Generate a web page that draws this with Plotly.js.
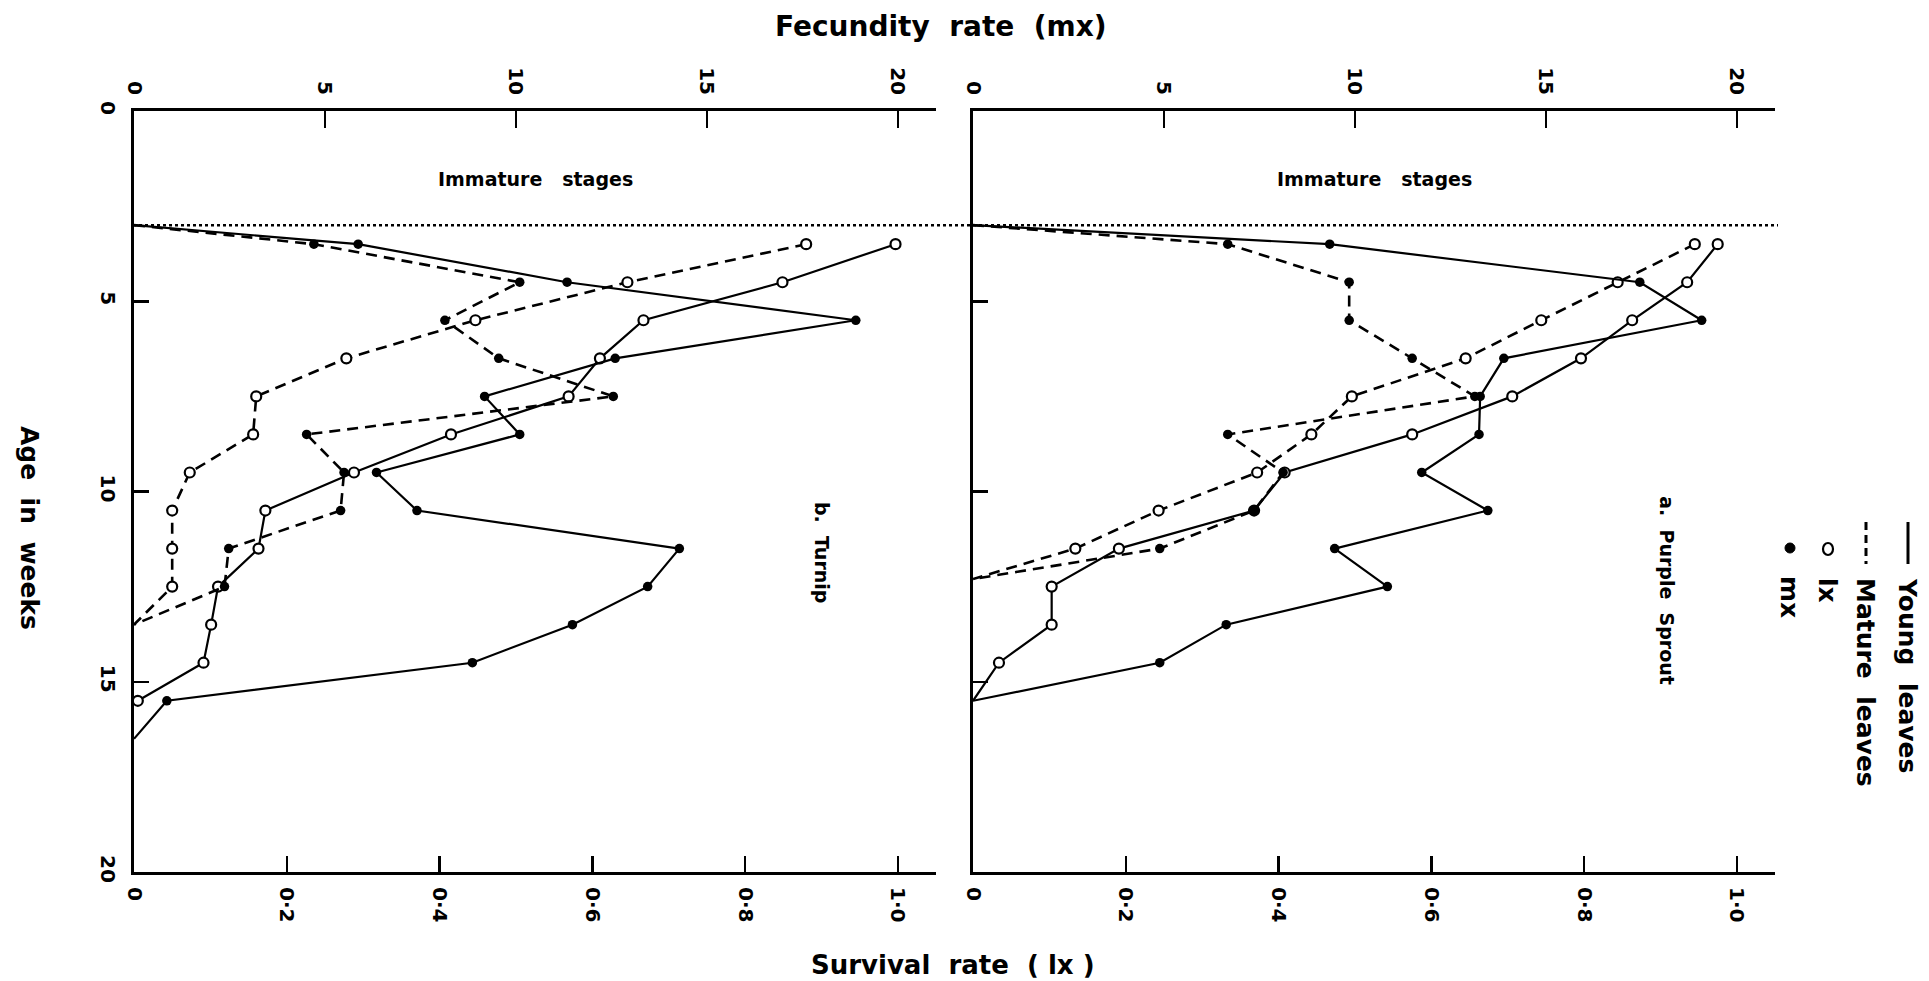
<!DOCTYPE html>
<html>
<head>
<meta charset="utf-8">
<script src="https://cdn.plot.ly/plotly-3.0.1.min.js"></script>
<style>
html,body{margin:0;padding:0;background:#ffffff;}
#chart{width:1929px;height:981px;}
</style>
</head>
<body>
<div id="chart"></div>
<script>
// ---------------- DATA ----------------
// Age in weeks at which adults emerge (dotted line, end of immature stages)
const emergeWeek = 3;

// a. Purple Sprout
const psYoungWeeks   = [3.5,4.5,5.5,6.5,7.5,8.5,9.5,10.5,11.5,12.5,13.5,14.5];
const psYoungLx      = [0.975,0.935,0.863,0.796,0.706,0.575,0.408,0.368,0.191,0.103,0.103,0.034];
const psYoungMx      = [9.34,17.46,19.08,13.9,13.28,13.25,11.75,13.48,9.47,10.85,6.63,4.89];
const psYoungEndWeek = 15.5;
const psMatureWeeks  = [3.5,4.5,5.5,6.5,7.5,8.5,9.5,10.5,11.5];
const psMatureLx     = [0.945,0.844,0.744,0.645,0.496,0.443,0.372,0.243,0.134];
const psMatureMx     = [6.67,9.85,9.85,11.5,13.14,6.67,8.12,7.36,4.89];
const psMatureEndWeek = 12.3;

// b. Turnip
const tYoungWeeks    = [3.5,4.5,5.5,6.5,7.5,8.5,9.5,10.5,11.5,12.5,13.5,14.5,15.5];
const tYoungLx       = [0.997,0.849,0.667,0.61,0.569,0.415,0.288,0.172,0.163,0.11,0.101,0.091,0.005];
const tYoungMx       = [5.87,11.34,18.9,12.6,9.18,10.1,6.35,7.41,14.28,13.45,11.48,8.86,0.86];
const tYoungLxEndWeek = null;
const tYoungMxEndWeek = 16.5;
const tMatureWeeks   = [3.5,4.5,5.5,6.5,7.5,8.5,9.5,10.5,11.5,12.5];
const tMatureLx      = [0.88,0.646,0.447,0.278,0.16,0.156,0.073,0.05,0.05,0.05];
const tMatureMx      = [4.71,10.1,8.14,9.55,12.55,4.52,5.5,5.41,2.48,2.37];
const tMatureEndWeek = 13.5;

// Axis ticks
const ageTicks = [0,5,10,15,20];
const lxTicks = [0,0.2,0.4,0.6,0.8,1.0];
const lxTickText = ['0','0·2','0·4','0·6','0·8','1·0'];
const mxTicks = [0,5,10,15,20];

// ---------------- HELPERS ----------------
const W = 1929, H = 981;
const px = x => x / W;
const py = y => 1 - y / H;
const FONT = 'DejaVu Sans';

function series(weeks, vals, startWeek, endWeek, xa, ya, dashed, open) {
  const lx = [], ly = [];
  if (startWeek !== null) { lx.push(0); ly.push(startWeek); }
  for (let i = 0; i < weeks.length; i++) { lx.push(vals[i]); ly.push(weeks[i]); }
  if (endWeek !== null) { lx.push(0); ly.push(endWeek); }
  const line = {
    type: 'scatter', mode: 'lines', x: lx, y: ly, xaxis: xa, yaxis: ya,
    line: {color: '#000', width: dashed ? 2.6 : 2.2, dash: dashed ? '11px,7px' : 'solid'},
    hoverinfo: 'skip', showlegend: false, cliponaxis: false
  };
  const marks = {
    type: 'scatter', mode: 'markers', x: vals, y: weeks, xaxis: xa, yaxis: ya,
    marker: open
      ? {symbol: 'circle', size: 10, color: '#fff', line: {color: '#000', width: 2.2}}
      : {symbol: 'circle', size: 9.5, color: '#000', line: {color: '#000', width: 0}},
    showlegend: false, cliponaxis: false
  };
  return [line, marks];
}

const traces = [].concat(
  // Turnip (left panel): lx on x (bottom), mx on x3 (top)
  series(tYoungWeeks, tYoungLx, null, tYoungLxEndWeek, 'x', 'y', false, true),
  series(tYoungWeeks, tYoungMx, emergeWeek, tYoungMxEndWeek, 'x3', 'y', false, false),
  series(tMatureWeeks, tMatureLx, null, tMatureEndWeek, 'x', 'y', true, true),
  series(tMatureWeeks, tMatureMx, emergeWeek, tMatureEndWeek, 'x3', 'y', true, false),
  // Purple Sprout (right panel): lx on x2 (bottom), mx on x4 (top)
  series(psYoungWeeks, psYoungLx, null, psYoungEndWeek, 'x2', 'y2', false, true),
  series(psYoungWeeks, psYoungMx, emergeWeek, psYoungEndWeek, 'x4', 'y2', false, false),
  series(psMatureWeeks, psMatureLx, null, psMatureEndWeek, 'x2', 'y2', true, true),
  series(psMatureWeeks, psMatureMx, emergeWeek, psMatureEndWeek, 'x4', 'y2', true, false)
);

const tickFont = {family: FONT, size: 20, color: '#000', weight: 'bold'};
const leftDom = [px(134), px(936)];
const rightDom = [px(973), px(1775)];
const yDom = [py(872), py(111)];

function lxAxis(dom, anchor) {
  return {domain: dom, anchor: anchor, range: [0, 1.05], side: 'bottom',
    tickvals: lxTicks, ticktext: lxTickText, ticks: 'inside', ticklen: 16, tickwidth: 2.5,
    tickcolor: '#000', tickangle: 90, tickfont: tickFont, ticklabelstandoff: 8,
    showline: true, linewidth: 3, linecolor: '#000', showgrid: false, zeroline: false, fixedrange: true};
}
function mxAxis(overlay, anchor) {
  return {overlaying: overlay, anchor: anchor, range: [0, 21], side: 'top',
    tickvals: mxTicks, ticktext: mxTicks.map(String), ticks: 'inside', ticklen: 17, tickwidth: 2.5,
    tickcolor: '#000', tickangle: 90, tickfont: tickFont, ticklabelstandoff: 6,
    showline: true, linewidth: 3, linecolor: '#000', showgrid: false, zeroline: false, fixedrange: true};
}
function ageAxis(anchor, labels, tv) {
  return {domain: yDom, anchor: anchor, range: [20, 0], autorange: false,
    tickvals: tv, ticktext: tv.map(String), ticks: 'inside', ticklen: 15, tickwidth: 2.5,
    tickcolor: '#000', tickangle: 90, tickfont: tickFont, showticklabels: labels, ticklabelstandoff: 6,
    showline: true, linewidth: 3, linecolor: '#000', showgrid: false, zeroline: false, fixedrange: true};
}

const annFont = s => ({family: FONT, size: s, color: '#000', weight: 'bold'});
const NB = '\u00A0';

const annotations = [
  {xref: 'paper', yref: 'paper', x: px(941), y: py(26), text: 'Fecundity' + NB + NB + 'rate' + NB + NB + '(mx)',
   showarrow: false, xanchor: 'center', yanchor: 'middle', font: annFont(28)},
  {xref: 'paper', yref: 'paper', x: px(953), y: py(965), text: 'Survival' + NB + NB + 'rate' + NB + NB + '(' + NB + 'lx' + NB + ')',
   showarrow: false, xanchor: 'center', yanchor: 'middle', font: annFont(26)},
  {xref: 'paper', yref: 'paper', x: px(30), y: py(528), text: 'Age' + NB + NB + 'in' + NB + NB + 'weeks',
   textangle: 90, showarrow: false, xanchor: 'center', yanchor: 'middle', font: annFont(25)},
  {xref: 'x3', yref: 'y', x: 10.5, y: 1.8, text: 'Immature' + NB + NB + NB + 'stages',
   showarrow: false, xanchor: 'center', yanchor: 'middle', font: annFont(19)},
  {xref: 'x4', yref: 'y2', x: 10.5, y: 1.8, text: 'Immature' + NB + NB + NB + 'stages',
   showarrow: false, xanchor: 'center', yanchor: 'middle', font: annFont(19)},
  {xref: 'x3', yref: 'y', x: 18.0, y: 11.6, text: 'b.' + NB + NB + 'Turnip', textangle: 90,
   showarrow: false, xanchor: 'center', yanchor: 'middle', font: annFont(19)},
  {xref: 'x4', yref: 'y2', x: 18.15, y: 12.6, text: 'a.' + NB + NB + 'Purple' + NB + NB + 'Sprout', textangle: 90,
   showarrow: false, xanchor: 'center', yanchor: 'middle', font: annFont(19)},
  // legend texts (rotated)
  {xref: 'paper', yref: 'paper', x: px(1908), y: py(675), text: 'Young' + NB + NB + 'leaves', textangle: 90,
   showarrow: false, xanchor: 'center', yanchor: 'middle', font: annFont(25)},
  {xref: 'paper', yref: 'paper', x: px(1866), y: py(682), text: 'Mature' + NB + NB + 'leaves', textangle: 90,
   showarrow: false, xanchor: 'center', yanchor: 'middle', font: annFont(25)},
  {xref: 'paper', yref: 'paper', x: px(1828), y: py(590), text: 'lx', textangle: 90,
   showarrow: false, xanchor: 'center', yanchor: 'middle', font: annFont(25)},
  {xref: 'paper', yref: 'paper', x: px(1790), y: py(597), text: 'mx', textangle: 90,
   showarrow: false, xanchor: 'center', yanchor: 'middle', font: annFont(25)}
];

const shapes = [
  // end of immature stages
  {type: 'line', xref: 'paper', yref: 'y', x0: px(133), x1: px(1778), y0: emergeWeek, y1: emergeWeek,
   line: {color: '#000', width: 2.5, dash: 'dot'}},
  // legend samples
  {type: 'line', xref: 'paper', yref: 'paper', x0: px(1908), x1: px(1908), y0: py(522), y1: py(564),
   line: {color: '#000', width: 3}},
  {type: 'line', xref: 'paper', yref: 'paper', x0: px(1866), x1: px(1866), y0: py(522), y1: py(564),
   line: {color: '#000', width: 3, dash: '8px,5px'}},
  {type: 'circle', xref: 'paper', yref: 'paper', x0: px(1823), x1: px(1833), y0: py(555), y1: py(543),
   line: {color: '#000', width: 2.2}, fillcolor: '#fff'},
  {type: 'circle', xref: 'paper', yref: 'paper', x0: px(1785), x1: px(1795), y0: py(553), y1: py(543),
   line: {color: '#000', width: 1}, fillcolor: '#000'}
];

const layout = {
  width: W, height: H,
  margin: {l: 0, r: 0, t: 0, b: 0, pad: 0},
  paper_bgcolor: '#fff', plot_bgcolor: 'rgba(0,0,0,0)',
  showlegend: false,
  font: {family: FONT, color: '#000'},
  xaxis: lxAxis(leftDom, 'y'),
  xaxis2: lxAxis(rightDom, 'y2'),
  xaxis3: mxAxis('x', 'y'),
  xaxis4: mxAxis('x2', 'y2'),
  yaxis: ageAxis('x', true, ageTicks),
  yaxis2: ageAxis('x2', false, [5,10,15]),
  annotations: annotations,
  shapes: shapes
};

Plotly.newPlot('chart', traces, layout, {displayModeBar: false, staticPlot: true});
</script>
</body>
</html>
